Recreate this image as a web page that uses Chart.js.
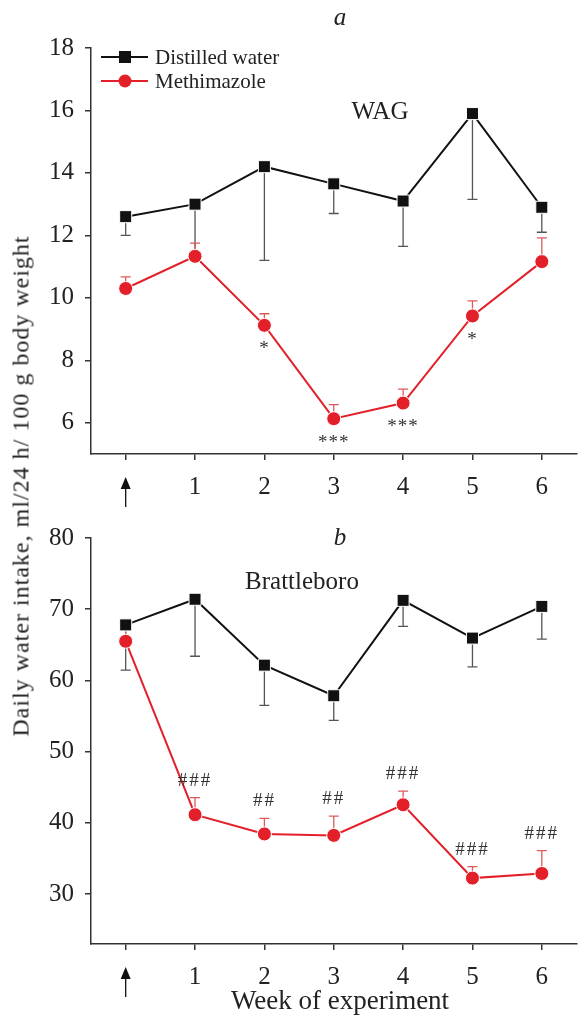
<!DOCTYPE html>
<html>
<head>
<meta charset="utf-8">
<script src="https://cdn.jsdelivr.net/npm/chart.js@4.4.1/dist/chart.umd.min.js"></script>
<style>
  html, body { margin: 0; padding: 0; background: #fff; }
  #wrap { position: relative; width: 586px; height: 1018px; overflow: hidden; }
  #topBox { position: absolute; left: 0; top: 0; width: 586px; height: 520px; }
  #botBox { position: absolute; left: 0; top: 520px; width: 586px; height: 498px; }
  #yTitle {
    position: absolute; left: 21px; top: 486px;
    transform: translate(-50%, -50%) rotate(-90deg);
    white-space: nowrap; font: 24px 'Liberation Serif', serif; color: #222; letter-spacing: 1px;
  }
</style>
</head>
<body>
<div id="wrap">
  <div id="topBox"><canvas id="chartA"></canvas></div>
  <div id="botBox"><canvas id="chartB"></canvas></div>
  <div id="yTitle">Daily water intake, ml/24 h/ 100 g body weight</div>
</div>
<script>
// Semanas (a seta marca o inicio do tratamento)
const weeks = ['↑', '1', '2', '3', '4', '5', '6'];

// a - WAG
const wagWater = [12.6, 13.0, 14.2, 13.65, 13.1, 15.9, 12.9];
const wagWaterErr = [0.6, 1.6, 3.0, 0.95, 1.45, 2.75, 0.8];
const wagMeth = [10.3, 11.33, 9.12, 6.13, 6.63, 9.42, 11.16];
const wagMethErr = [0.37, 0.42, 0.37, 0.45, 0.45, 0.48, 0.76];
const wagMarks = ['', '', '*', '***', '***', '*', ''];
const wagTicks = [6, 8, 10, 12, 14, 16, 18];

// b - Brattleboro
const bratWater = [67.8, 71.4, 62.15, 57.85, 71.25, 65.95, 70.4];
const bratWaterErr = [6.35, 8.0, 5.65, 3.45, 3.65, 4.05, 4.6];
const bratMeth = [65.5, 41.15, 38.45, 38.25, 42.55, 32.25, 32.9];
const bratMethErr = [2.2, 2.4, 2.2, 2.7, 1.9, 1.6, 3.2];
const bratMarks = ['', '###', '##', '##', '###', '###', '###'];
const bratTicks = [30, 40, 50, 60, 70, 80];

const serif = "'Liberation Serif', 'Times New Roman', serif";
const preto = '#111';
const vermelho = '#e3202a';

// barras de erro, asteriscos, seta, legenda e textos
const extras = {
  id: 'extras',
  beforeDatasetsDraw(chart) {
    const ctx = chart.ctx, y = chart.scales.y;
    chart.data.datasets.forEach((ds, di) => {
      const meta = chart.getDatasetMeta(di);
      ctx.save();
      ctx.strokeStyle = ds.errColor;
      ctx.lineWidth = 1.3;
      meta.data.forEach((pt, i) => {
        const end = y.getPixelForValue(ds.data[i] + ds.errDir * ds.errors[i]);
        ctx.beginPath();
        ctx.moveTo(pt.x, pt.y);
        ctx.lineTo(pt.x, end);
        ctx.moveTo(pt.x - 5, end);
        ctx.lineTo(pt.x + 5, end);
        ctx.stroke();
      });
      ctx.restore();
    });
  },
  afterDatasetsDraw(chart, args, opts) {
    const ctx = chart.ctx, x = chart.scales.x, y = chart.scales.y;
    const meth = chart.data.datasets[1];
    const meta = chart.getDatasetMeta(1);

    ctx.save();
    ctx.fillStyle = '#333';
    ctx.textAlign = 'center';
    ctx.textBaseline = 'middle';
    opts.marks.forEach((m, i) => {
      if (!m) return;
      const pt = meta.data[i];
      ctx.font = '19px ' + serif;
      if (opts.below) {
        ctx.letterSpacing = '1px';
        ctx.fillText(m, pt.x, pt.y + 24);
      } else {
        ctx.letterSpacing = '2px';
        ctx.fillText(m, pt.x, y.getPixelForValue(meth.data[i] + meth.errors[i]) - 17);
      }
    });
    ctx.restore();

    // seta no lugar do rotulo da semana 0
    const ax = x.getPixelForTick(0);
    const top = x.top + 23, bot = x.top + 53;
    ctx.save();
    ctx.strokeStyle = preto;
    ctx.fillStyle = preto;
    ctx.lineWidth = 1.3;
    ctx.beginPath();
    ctx.moveTo(ax, top + 8);
    ctx.lineTo(ax, bot);
    ctx.stroke();
    ctx.beginPath();
    ctx.moveTo(ax, top);
    ctx.lineTo(ax - 5, top + 12);
    ctx.lineTo(ax + 5, top + 12);
    ctx.closePath();
    ctx.fill();
    ctx.restore();

    // textos do painel
    ctx.save();
    ctx.fillStyle = '#222';
    ctx.textAlign = 'center';
    ctx.textBaseline = 'middle';
    ctx.font = 'italic 25px ' + serif;
    ctx.fillText(opts.panel, 340, 18);
    ctx.font = '25px ' + serif;
    ctx.fillText(opts.strain, opts.strainX, opts.strainY);
    if (opts.xTitle) {
      ctx.font = '27px ' + serif;
      ctx.fillText(opts.xTitle, 340, chart.height - 16);
    }
    ctx.restore();

    // legenda
    if (opts.legend) {
      ctx.save();
      chart.data.datasets.forEach((ds, i) => {
        const ly = 57 + i * 24;
        ctx.strokeStyle = ds.borderColor;
        ctx.lineWidth = 2;
        ctx.beginPath();
        ctx.moveTo(101, ly);
        ctx.lineTo(148, ly);
        ctx.stroke();
        ctx.fillStyle = ds.pointBackgroundColor;
        if (ds.pointStyle === 'rect') {
          ctx.fillRect(119, ly - 6, 12, 12);
        } else {
          ctx.beginPath();
          ctx.arc(125, ly, 6.5, 0, Math.PI * 2);
          ctx.fill();
        }
        ctx.fillStyle = '#222';
        ctx.font = '21px ' + serif;
        ctx.textAlign = 'left';
        ctx.textBaseline = 'middle';
        ctx.fillText(ds.label, 155, ly + 1);
      });
      ctx.restore();
    }
  }
};

function makeChart(id, water, waterErr, meth, methErr, ticks, yMin, yMax, xH, padTop, extra) {
  return new Chart(document.getElementById(id), {
    type: 'line',
    data: {
      labels: weeks,
      datasets: [{
        label: 'Distilled water',
        data: water,
        errors: waterErr,
        errDir: -1,
        errColor: '#555',
        borderColor: preto,
        borderWidth: 2,
        pointStyle: 'rect',
        pointRadius: 8.5,
        pointBackgroundColor: preto,
        pointBorderColor: '#fff',
        pointBorderWidth: 1,
        tension: 0,
        clip: false
      }, {
        label: 'Methimazole',
        data: meth,
        errors: methErr,
        errDir: 1,
        errColor: '#dd5a5a',
        borderColor: vermelho,
        borderWidth: 2,
        pointStyle: 'circle',
        pointRadius: 7,
        pointBackgroundColor: vermelho,
        pointBorderColor: '#fff',
        pointBorderWidth: 1,
        tension: 0,
        clip: false
      }]
    },
    options: {
      responsive: true,
      maintainAspectRatio: false,
      animation: false,
      layout: { padding: { top: padTop, left: 0, right: 0, bottom: 0 } },
      plugins: {
        legend: { display: false },
        tooltip: { enabled: false },
        extras: extra
      },
      scales: {
        x: {
          type: 'category',
          offset: true,
          afterFit: s => { s.height = xH; },
          grid: { display: true, drawOnChartArea: false, drawTicks: true, tickLength: 6, color: '#333', lineWidth: 1.5 },
          border: { display: true, color: '#333', width: 1.5 },
          ticks: {
            padding: 12,
            color: '#222',
            font: { family: serif, size: 25 },
            callback: (v, i) => i === 0 ? '' : weeks[i]
          }
        },
        y: {
          min: yMin,
          max: yMax,
          afterFit: s => { s.width = 91; s.paddingTop = 0; s.paddingBottom = 0; },
          afterBuildTicks: s => { s.ticks = ticks.map(v => ({ value: v })); },
          grid: { display: true, drawOnChartArea: false, drawTicks: true, tickLength: 6, color: '#333', lineWidth: 1.5 },
          border: { display: true, color: '#333', width: 1.5 },
          ticks: {
            padding: 11,
            color: '#222',
            font: { family: serif, size: 25 }
          }
        }
      }
    },
    plugins: [extras]
  });
}

makeChart('chartA', wagWater, wagWaterErr, wagMeth, wagMethErr, wagTicks, 5, 18, 66, 48,
  { marks: wagMarks, below: true, panel: 'a', strain: 'WAG', strainX: 380, strainY: 112, legend: true });

makeChart('chartB', bratWater, bratWaterErr, bratMeth, bratMethErr, bratTicks, 23, 80, 74, 18,
  { marks: bratMarks, below: false, panel: 'b', strain: 'Brattleboro', strainX: 302, strainY: 62, legend: false,
    xTitle: 'Week of experiment' });
</script>
</body>
</html>
